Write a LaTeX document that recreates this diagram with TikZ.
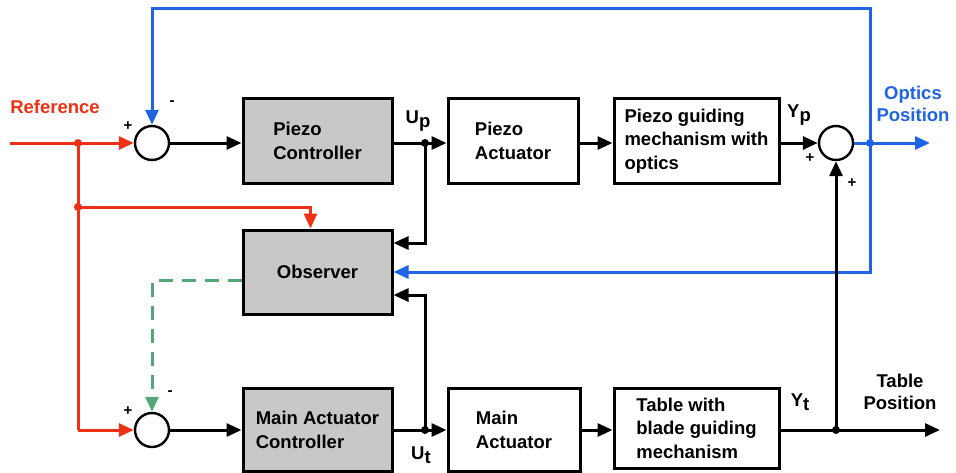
\documentclass[tikz,border=0pt]{standalone}
\usepackage{fontspec}
\setmainfont{Liberation Sans}
\usetikzlibrary{arrows.meta,calc}
\definecolor{refred}{RGB}{238,48,22}
\definecolor{optblue}{RGB}{30,100,228}
\definecolor{obsgreen}{RGB}{84,168,120}
\definecolor{boxgray}{RGB}{200,200,200}
\begin{document}
\begin{tikzpicture}[x=1pt,y=-1pt,
  every node/.style={font=\fontsize{18.5}{23.5}\selectfont\bfseries},
  blk/.style={draw=black,line width=3pt,align=left,inner sep=0pt},
  gblk/.style={blk,fill=boxgray},
  sumc/.style={draw=black,line width=2.4pt,circle,minimum size=34pt,inner sep=0pt,fill=white},
  conn/.style={line width=3pt,-{Triangle[length=15pt,width=13pt]}},
  plain/.style={line width=3pt},
  dotj/.style={circle,fill,inner sep=0pt,minimum size=8pt},
  sgn/.style={font=\fontsize{15}{17}\selectfont\bfseries},
  lbl/.style={font=\fontsize{18.5}{22}\selectfont\bfseries,align=left}
]
\useasboundingbox (0,0) rectangle (956,472);
% blocks
\node[gblk,minimum width=149pt,minimum height=85pt] (pc) at (317.5,141) {Piezo\\Controller};
\node[blk,minimum width=130pt,minimum height=85pt] (pa) at (513,141) {Piezo\\Actuator};
\node[blk,minimum width=165pt,minimum height=85pt] (pg) at (696.5,141) {Piezo guiding\\mechanism with\\optics};
\node[gblk,minimum width=149pt,minimum height=84pt] (obs) at (317.5,272) {Observer};
\node[gblk,minimum width=149pt,minimum height=83pt] (mc) at (317.5,430) {Main Actuator\\Controller};
\node[blk,minimum width=132pt,minimum height=83pt] (ma) at (514,430) {Main\\Actuator};
\node[blk,minimum width=165pt,minimum height=80pt] (tb) at (696.5,428) {Table with\\blade guiding\\mechanism};
% sums
\node[sumc] (s1) at (152,143) {};
\node[sumc] (s2) at (836,143) {};
\node[sumc] (s3) at (152,430) {};
% coordinates
\coordinate (refstart) at (10,143);
\coordinate (jr1) at (78,143);
\coordinate (jr2) at (78,207);
\coordinate (jr3) at (78,430);
\coordinate (jup) at (425,143);
\coordinate (jut) at (425,430);
\coordinate (jopt) at (870,143);
\coordinate (optend) at (930,143);
\coordinate (topc) at (152,8);
\coordinate (jtab) at (836,430);
\coordinate (tabend) at (940,430);
% red reference
\draw[plain,refred] (refstart) -- (jr1);
\draw[conn,refred] (jr1) -- (s1);
\draw[plain,refred] (jr1) -- (jr3);
\draw[conn,refred] (jr3) -- (s3);
\draw[conn,refred] (jr2) -| ([xshift=-7pt]pc.south |- obs.north);
\node[dotj,refred] at (jr1) {};
\node[dotj,refred] at (jr2) {};
% top row
\draw[conn] (s1) -- (pc.west |- s1);
\draw[plain] (pc.east |- jup) -- (jup);
\draw[conn] (jup) -- (pa.west |- jup);
\draw[conn] (pa.east |- jup) -- (pg.west |- jup);
\draw[conn] (pg.east |- s2) -- (s2);
\draw[conn] (jup) |- ([yshift=29pt]obs.east);
\node[dotj] at (jup) {};
% optics output
\draw[conn,optblue] (s2) -- (optend);
\draw[conn,optblue] (jopt) |- (topc) -- (s1);
\draw[conn,optblue] (jopt) |- (obs.east);
\node[dotj,optblue] at (jopt) {};
% observer to sum3
\draw[conn,obsgreen,dash pattern=on 14pt off 9pt] ([yshift=-8pt]obs.west) -| (s3);
% bottom row
\draw[conn] (s3) -- (mc);
\draw[plain] (mc.east |- jut) -- (jut);
\draw[conn] (jut) -- (ma.west |- jut);
\draw[conn] (jut) |- ([yshift=-23pt]obs.east);
\node[dotj] at (jut) {};
\draw[conn] (ma.east |- jut) -- (tb.west |- jut);
\draw[plain] (tb.east |- jtab) -- (jtab);
\draw[conn] (jtab) -- (tabend);
\draw[conn] (jtab) -- (s2);
\node[dotj] at (jtab) {};
% labels
\node[lbl,text=refred] (lref) at (55,107) {Reference};
\node[lbl,text=optblue,align=center] (lopt) at (913,104) {Optics\\Position};
\node[lbl,align=center] (ltab) at (900,392) {Table\\Position};
\node[lbl] (lup) at (418,121) {U\raisebox{-0.45ex}{p}};
\node[lbl] (lut) at (421,455) {U\raisebox{-0.45ex}{t}};
\node[lbl] (lyp) at (799,115) {Y\raisebox{-0.45ex}{p}};
\node[lbl] (lyt) at (800,402) {Y\raisebox{-0.45ex}{t}};
% signs
\node[sgn] (p1) at (128,126) {+};
\node[sgn] (m1) at (172,103) {-};
\node[sgn] (p3) at (128,411) {+};
\node[sgn] (m3) at (170,393) {-};
\node[sgn] (p2a) at (810,158) {+};
\node[sgn] (p2b) at (852,183) {+};
\end{tikzpicture}
\end{document}
